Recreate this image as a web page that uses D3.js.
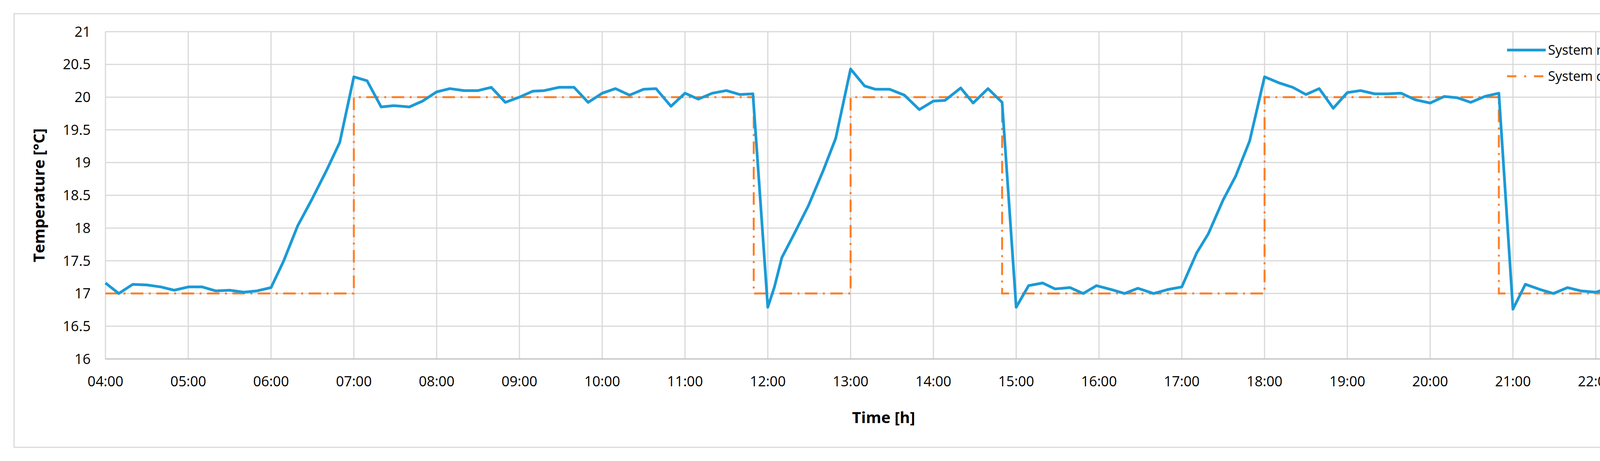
<!DOCTYPE html>
<html>
<head>
<meta charset="utf-8">
<script src="https://cdn.jsdelivr.net/npm/d3@7"></script>
<style>
body { margin: 0; background: #fff; }
</style>
</head>
<body>
<svg id="chart" width="4375" height="1179"></svg>
<script>
// time in decimal hours, temperature in °C
var respTime = [4.0,4.16,4.33,4.5,4.67,4.83,5.0,5.17,5.33,5.5,5.67,5.83,6.0,6.15,6.32,6.49,6.67,6.83,7.0,7.16,7.33,7.48,7.67,7.83,8.0,8.16,8.33,8.5,8.66,8.83,9.0,9.16,9.3,9.48,9.66,9.83,10.0,10.16,10.33,10.5,10.65,10.83,11.0,11.16,11.33,11.5,11.66,11.82,12.0,12.08,12.17,12.31,12.49,12.67,12.82,13.0,13.17,13.3,13.47,13.65,13.83,14.0,14.14,14.33,14.48,14.66,14.83,15.0,15.15,15.32,15.47,15.65,15.81,15.97,16.15,16.31,16.47,16.66,16.83,17.0,17.18,17.32,17.5,17.65,17.82,18.0,18.17,18.34,18.5,18.66,18.83,19.0,19.16,19.33,19.48,19.65,19.82,20.0,20.17,20.33,20.49,20.66,20.83,21.0,21.15,21.33,21.49,21.66,21.82,22.0,22.16,22.33,22.49,22.66,22.83];
var respTemp = [17.16,17.0,17.14,17.13,17.1,17.05,17.1,17.1,17.04,17.05,17.02,17.04,17.09,17.49,18.03,18.43,18.88,19.31,20.31,20.25,19.85,19.87,19.85,19.94,20.08,20.13,20.1,20.1,20.15,19.92,20.0,20.09,20.1,20.15,20.15,19.92,20.06,20.13,20.03,20.12,20.13,19.86,20.06,19.97,20.06,20.1,20.04,20.05,16.79,17.1,17.55,17.89,18.34,18.88,19.37,20.43,20.17,20.12,20.12,20.03,19.81,19.94,19.95,20.14,19.91,20.13,19.92,16.79,17.12,17.16,17.07,17.09,17.0,17.12,17.06,17.0,17.08,17.0,17.06,17.1,17.62,17.91,18.43,18.79,19.33,20.31,20.22,20.15,20.04,20.13,19.83,20.07,20.1,20.05,20.05,20.06,19.96,19.91,20.01,19.99,19.92,20.01,20.06,16.76,17.14,17.06,17.0,17.09,17.04,17.02,17.08,17.0,17.02,17.02,17.14];
var ctrlTime = [4.0,7.0,7.0,11.83,11.83,13.0,13.0,14.83,14.83,18.0,18.0,20.83,20.83,22.75];
var ctrlTemp = [17,17,20,20,17,17,20,20,17,17,20,20,17,17];
var yTicks = [16,16.5,17,17.5,18,18.5,19,19.5,20,20.5,21];
var xTicks = d3.range(4, 23);
var seriesNames = ["System response", "System control"];

var svg = d3.select("#chart");
var plotL = 270, plotR = 4297, plotT = 81, plotB = 918;

// outer border
svg.append("rect").attr("x", 36).attr("y", 35).attr("width", 4333).attr("height", 1109)
  .attr("fill", "none").attr("stroke", "#d9d9d9").attr("stroke-width", 3);

var x = d3.scaleLinear().domain([4, 23]).range([plotL, plotR]);
var y = d3.scaleLinear().domain([16, 21]).range([plotB, plotT]);

// grid
svg.append("g").selectAll("line").data(xTicks).enter().append("line")
  .attr("x1", function(d){ return x(d); }).attr("x2", function(d){ return x(d); })
  .attr("y1", plotT).attr("y2", plotB)
  .attr("stroke", "#d9d9d9").attr("stroke-width", 3);
svg.append("g").selectAll("line").data(yTicks).enter().append("line")
  .attr("x1", plotL).attr("x2", plotR)
  .attr("y1", function(d){ return y(d); }).attr("y2", function(d){ return y(d); })
  .attr("stroke", function(d){ return d === 16 ? "#bfbfbf" : "#d9d9d9"; }).attr("stroke-width", 3);

// tick labels
svg.append("g").selectAll("text").data(yTicks).enter().append("text")
  .attr("x", 232).attr("y", function(d){ return y(d); }).attr("dy", "0.35em")
  .attr("text-anchor", "end").attr("font-family", "Liberation Sans Narrow, Open Sans, sans-serif")
  .attr("font-size", 36).attr("fill", "#000").text(function(d){ return d; });
svg.append("g").selectAll("text").data(xTicks).enter().append("text")
  .attr("x", function(d){ return x(d); }).attr("y", 975).attr("dy", "0.35em")
  .attr("text-anchor", "middle").attr("font-family", "Liberation Sans Narrow, Open Sans, sans-serif")
  .attr("font-size", 36).attr("fill", "#000")
  .text(function(d){ return (d < 10 ? "0" : "") + d + ":00"; });

// axis titles
svg.append("text").attr("x", 2262).attr("y", 1068).attr("dy", "0.35em").attr("text-anchor", "middle")
  .attr("font-family", "Open Sans, sans-serif").attr("font-weight", "bold").attr("font-size", 40)
  .text("Time [h]");
svg.append("text").attr("transform", "translate(100," + ((plotT + plotB) / 2) + ") rotate(-90)")
  .attr("dy", "0.35em").attr("text-anchor", "middle")
  .attr("font-family", "Open Sans, sans-serif").attr("font-weight", "bold").attr("font-size", 40)
  .text("Temperature [°C]");

// lines
var line = d3.line().x(function(d){ return x(d[0]); }).y(function(d){ return y(d[1]); });
svg.append("path").datum(d3.zip(ctrlTime, ctrlTemp)).attr("d", line)
  .attr("fill", "none").attr("stroke", "#ff7f27").attr("stroke-width", 5)
  .attr("stroke-dasharray", "32,14,5,14");
svg.append("path").datum(d3.zip(respTime, respTemp)).attr("d", line)
  .attr("fill", "none").attr("stroke", "#1b9ad6").attr("stroke-width", 7)
  .attr("stroke-linejoin", "round");

// legend
var legend = svg.append("g");
legend.append("line").attr("x1", 3858).attr("x2", 3957).attr("y1", 128).attr("y2", 128)
  .attr("stroke", "#1b9ad6").attr("stroke-width", 7);
legend.append("line").attr("x1", 3858).attr("x2", 3957).attr("y1", 195).attr("y2", 195)
  .attr("stroke", "#ff7f27").attr("stroke-width", 5).attr("stroke-dasharray", "24,20,5,20");
legend.selectAll("text").data(seriesNames).enter().append("text")
  .attr("x", 3963).attr("y", function(d, i){ return 128 + i * 67; }).attr("dy", "0.35em")
  .attr("font-family", "Liberation Sans Narrow, Open Sans, sans-serif").attr("font-size", 34)
  .text(function(d){ return d; });
</script>
</body>
</html>
